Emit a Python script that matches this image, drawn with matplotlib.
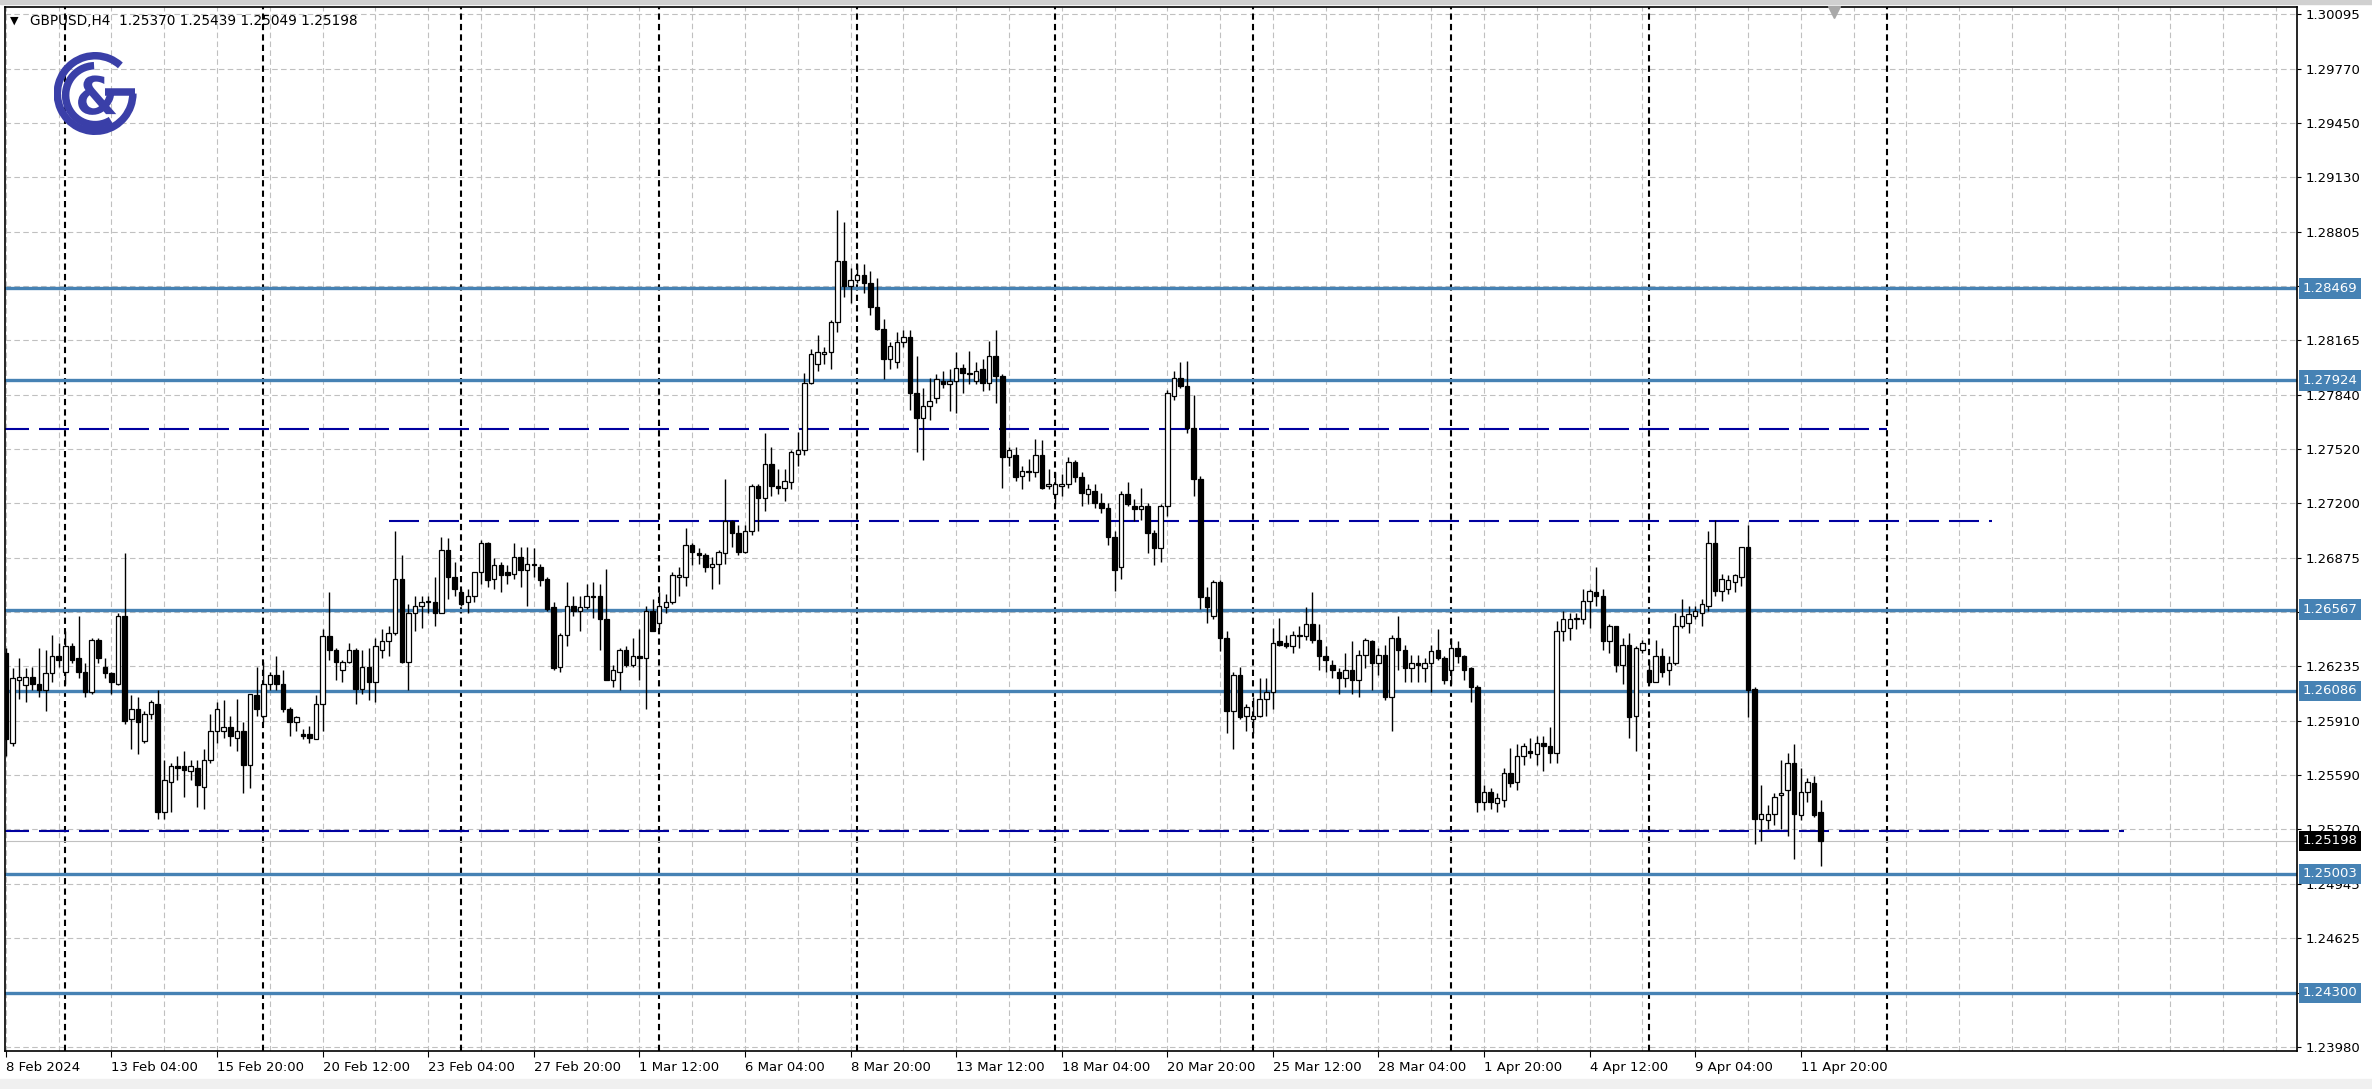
import numpy as np
import matplotlib
matplotlib.use("Agg")
import matplotlib.pyplot as plt
from matplotlib.patches import Arc, PathPatch, Rectangle
from matplotlib.textpath import TextPath
from matplotlib.font_manager import FontProperties
from matplotlib.transforms import Affine2D

# GBPUSD H4 candles, 8 Feb 12:00 .. 12 Apr 08:00
opens = [
    1.2631, 1.2578, 1.2615, 1.2612, 1.2617, 1.2613, 1.2609, 1.2619, 1.2629, 1.2620,
    1.2635, 1.2628, 1.2620, 1.2608, 1.2639, 1.2623, 1.2619, 1.2613, 1.2653, 1.2592,
    1.2598, 1.2579, 1.2595, 1.2601, 1.2537, 1.2555, 1.2564, 1.2564, 1.2561, 1.2563,
    1.2552, 1.2568, 1.2585, 1.2585, 1.2587, 1.2581, 1.2585, 1.2565, 1.2606, 1.2594,
    1.2613, 1.2618, 1.2613, 1.2598, 1.2590, 1.2583, 1.2583, 1.2580, 1.2601, 1.2641,
    1.2633, 1.2621, 1.2626, 1.2633, 1.2610, 1.2623, 1.2614, 1.2633, 1.2638, 1.2643,
    1.2675, 1.2626, 1.2655, 1.2659, 1.2662, 1.2661, 1.2655, 1.2692, 1.2676, 1.2667,
    1.2661, 1.2665, 1.2679, 1.2696, 1.2675, 1.2683, 1.2679, 1.2678, 1.2688, 1.2680,
    1.2684, 1.2682, 1.2675, 1.2658, 1.2623, 1.2642, 1.2659, 1.2656, 1.2658, 1.2665,
    1.2665, 1.2651, 1.2615, 1.2620, 1.2633, 1.2624, 1.2629, 1.2628, 1.2656, 1.2649,
    1.2658, 1.2661, 1.2676, 1.2676, 1.2695, 1.2690, 1.2689, 1.2682, 1.2684, 1.2690,
    1.2709, 1.2702, 1.2691, 1.2703, 1.2730, 1.2723, 1.2743, 1.2730, 1.2729, 1.2732,
    1.2749, 1.2751, 1.2791, 1.2802, 1.2808, 1.2809, 1.2827, 1.2863, 1.2848, 1.2852,
    1.2855, 1.2850, 1.2836, 1.2823, 1.2805, 1.2803, 1.2815, 1.2818, 1.2785, 1.2770,
    1.2777, 1.2782, 1.2792, 1.2790, 1.2792, 1.2800, 1.2797, 1.2792, 1.2799, 1.2791,
    1.2807, 1.2795, 1.2747, 1.2748, 1.2736, 1.2739, 1.2738, 1.2748, 1.2730, 1.2725,
    1.2730, 1.2731, 1.2744, 1.2735, 1.2725, 1.2727, 1.2720, 1.2717, 1.2700, 1.2682,
    1.2725, 1.2718, 1.2716, 1.2718, 1.2702, 1.2693, 1.2718, 1.2783, 1.2794, 1.2789,
    1.2764, 1.2734, 1.2664, 1.2653, 1.2673, 1.2640, 1.2597, 1.2618, 1.2594, 1.2592,
    1.2594, 1.2604, 1.2608, 1.2638, 1.2637, 1.2635, 1.2642, 1.2641, 1.2648, 1.2639,
    1.2629, 1.2624, 1.2620, 1.2616, 1.2621, 1.2615, 1.2630, 1.2638, 1.2625, 1.2630,
    1.2605, 1.2640, 1.2633, 1.2622, 1.2625, 1.2622, 1.2625, 1.2633, 1.2628, 1.2621,
    1.2634, 1.2629, 1.2622, 1.2611, 1.2543, 1.2549, 1.2542, 1.2544, 1.2560, 1.2555,
    1.2570, 1.2573, 1.2571, 1.2578, 1.2576, 1.2572, 1.2644, 1.2646, 1.2651, 1.2651,
    1.2662, 1.2667, 1.2665, 1.2638, 1.2647, 1.2624, 1.2636, 1.2594, 1.2633, 1.2621,
    1.2614, 1.2629, 1.2621, 1.2625, 1.2647, 1.2649, 1.2653, 1.2655, 1.2659, 1.2696,
    1.2668, 1.2669, 1.2673, 1.2676, 1.2694, 1.2610, 1.2533, 1.2532, 1.2536, 1.2547,
    1.2550, 1.2566, 1.2535, 1.2549, 1.2554, 1.25370,
]
highs = [
    1.2634, 1.2622, 1.2628, 1.2622, 1.2623, 1.2634, 1.2633, 1.2642, 1.2637, 1.2644,
    1.2637, 1.2653, 1.2625, 1.2640, 1.2640, 1.2628, 1.2620, 1.2655, 1.2690, 1.2606,
    1.2605, 1.2597, 1.2603, 1.2609, 1.2568, 1.2566, 1.2570, 1.2573, 1.2568, 1.2568,
    1.2574, 1.2595, 1.2602, 1.2603, 1.2594, 1.2604, 1.2590, 1.2607, 1.2623, 1.2626,
    1.2620, 1.2629, 1.2621, 1.2599, 1.2594, 1.2586, 1.2588, 1.2606, 1.2645, 1.2667,
    1.2634, 1.2627, 1.2637, 1.2634, 1.2633, 1.2634, 1.2640, 1.2645, 1.2647, 1.2703,
    1.2689, 1.2660, 1.2665, 1.2665, 1.2665, 1.2676, 1.2700, 1.2699, 1.2685, 1.2669,
    1.2669, 1.2679, 1.2698, 1.2697, 1.2687, 1.2685, 1.2683, 1.2696, 1.2694, 1.2694,
    1.2693, 1.2684, 1.2676, 1.2661, 1.2643, 1.2673, 1.2665, 1.2665, 1.2672, 1.2673,
    1.2672, 1.2681, 1.2624, 1.2634, 1.2635, 1.2640, 1.2645, 1.2659, 1.2663, 1.2667,
    1.2666, 1.2679, 1.2682, 1.2705, 1.2696, 1.2693, 1.2690, 1.2688, 1.2692, 1.2734,
    1.2710, 1.2707, 1.2707, 1.2731, 1.2731, 1.2761, 1.2753, 1.2740, 1.2740, 1.2751,
    1.2762, 1.2797, 1.2811, 1.2819, 1.2812, 1.2828, 1.2893, 1.2886, 1.2859, 1.2861,
    1.2861, 1.2857, 1.2853, 1.2829, 1.2815, 1.2821, 1.2822, 1.2822, 1.2807, 1.2788,
    1.2794, 1.2796, 1.2798, 1.2799, 1.2809, 1.2802, 1.2810, 1.2803, 1.2805, 1.2816,
    1.2822, 1.2796, 1.2753, 1.2753, 1.2742, 1.2746, 1.2758, 1.2757, 1.2740, 1.2738,
    1.2737, 1.2747, 1.2745, 1.2738, 1.2731, 1.2731, 1.2726, 1.2720, 1.2703, 1.2727,
    1.2732, 1.2722, 1.2729, 1.2720, 1.2704, 1.2719, 1.2787, 1.2798, 1.2803, 1.2804,
    1.2784, 1.2736, 1.2670, 1.2674, 1.2674, 1.2644, 1.2620, 1.2623, 1.2601, 1.2605,
    1.2616, 1.2616, 1.2646, 1.2652, 1.2642, 1.2644, 1.2647, 1.2658, 1.2667, 1.2648,
    1.2635, 1.2627, 1.2622, 1.2631, 1.2638, 1.2633, 1.2640, 1.2639, 1.2634, 1.2636,
    1.2642, 1.2653, 1.2636, 1.2630, 1.2630, 1.2628, 1.2636, 1.2645, 1.2629, 1.2640,
    1.2638, 1.2630, 1.2623, 1.2612, 1.2553, 1.2551, 1.2548, 1.2563, 1.2575, 1.2577,
    1.2578, 1.2581, 1.2582, 1.2582, 1.2587, 1.2650, 1.2656, 1.2655, 1.2655, 1.2669,
    1.2669, 1.2682, 1.2669, 1.2648, 1.2647, 1.2640, 1.2643, 1.2635, 1.2639, 1.2627,
    1.2639, 1.2634, 1.2629, 1.2655, 1.2663, 1.2659, 1.2659, 1.2663, 1.2703, 1.2710,
    1.2678, 1.2677, 1.2678, 1.2694, 1.2707, 1.2611, 1.2553, 1.2541, 1.2548, 1.2568,
    1.2572, 1.2577, 1.2563, 1.2557, 1.2558, 1.25439,
]
lows = [
    1.2570, 1.2576, 1.2604, 1.2602, 1.2609, 1.2605, 1.2597, 1.2614, 1.2623, 1.2613,
    1.2625, 1.2616, 1.2605, 1.2607, 1.2625, 1.2616, 1.2607, 1.2612, 1.2589, 1.2574,
    1.2571, 1.2578, 1.2592, 1.2533, 1.2533, 1.2537, 1.2556, 1.2546, 1.2556, 1.2540,
    1.2539, 1.2566, 1.2578, 1.2581, 1.2576, 1.2573, 1.2548, 1.2551, 1.2594, 1.2590,
    1.2609, 1.2609, 1.2596, 1.2582, 1.2585, 1.2580, 1.2578, 1.2580, 1.2585, 1.2627,
    1.2615, 1.2614, 1.2625, 1.2601, 1.2607, 1.2603, 1.2602, 1.2628, 1.2629, 1.2642,
    1.2625, 1.2609, 1.2644, 1.2646, 1.2655, 1.2647, 1.2655, 1.2663, 1.2665, 1.2659,
    1.2655, 1.2661, 1.2672, 1.2670, 1.2669, 1.2667, 1.2672, 1.2675, 1.2670, 1.2659,
    1.2676, 1.2671, 1.2656, 1.2621, 1.2620, 1.2635, 1.2653, 1.2644, 1.2657, 1.2652,
    1.2633, 1.2615, 1.2611, 1.2609, 1.2623, 1.2623, 1.2615, 1.2598, 1.2644, 1.2645,
    1.2655, 1.2660, 1.2665, 1.2671, 1.2683, 1.2684, 1.2679, 1.2669, 1.2672, 1.2684,
    1.2694, 1.2689, 1.2690, 1.2701, 1.2703, 1.2715, 1.2724, 1.2725, 1.2721, 1.2728,
    1.2742, 1.2748, 1.2790, 1.2798, 1.2802, 1.2799, 1.2821, 1.2842, 1.2838, 1.2850,
    1.2844, 1.2831, 1.2822, 1.2793, 1.2799, 1.2800, 1.2812, 1.2775, 1.2750, 1.2745,
    1.2769, 1.2779, 1.2788, 1.2774, 1.2773, 1.2785, 1.2790, 1.2790, 1.2786, 1.2787,
    1.2779, 1.2729, 1.2742, 1.2733, 1.2728, 1.2733, 1.2735, 1.2728, 1.2728, 1.2719,
    1.2724, 1.2729, 1.2732, 1.2718, 1.2719, 1.2717, 1.2714, 1.2695, 1.2668, 1.2675,
    1.2718, 1.2709, 1.2710, 1.2690, 1.2683, 1.2685, 1.2712, 1.2781, 1.2788, 1.2761,
    1.2724, 1.2657, 1.2649, 1.2651, 1.2632, 1.2584, 1.2574, 1.2592, 1.2585, 1.2584,
    1.2593, 1.2594, 1.2598, 1.2635, 1.2634, 1.2631, 1.2634, 1.2639, 1.2637, 1.2621,
    1.2620, 1.2616, 1.2607, 1.2611, 1.2607, 1.2605, 1.2622, 1.2609, 1.2618, 1.2603,
    1.2585, 1.2621, 1.2614, 1.2614, 1.2614, 1.2614, 1.2608, 1.2627, 1.2613, 1.2613,
    1.2625, 1.2615, 1.2602, 1.2537, 1.2538, 1.2539, 1.2537, 1.2540, 1.2552, 1.2550,
    1.2565, 1.2569, 1.2565, 1.2561, 1.2566, 1.2566, 1.2638, 1.2639, 1.2645, 1.2648,
    1.2646, 1.2659, 1.2633, 1.2631, 1.2620, 1.2613, 1.2581, 1.2573, 1.2631, 1.2613,
    1.2614, 1.2617, 1.2612, 1.2624, 1.2646, 1.2643, 1.2651, 1.2647, 1.2656, 1.2665,
    1.2662, 1.2666, 1.2667, 1.2671, 1.2593, 1.2518, 1.2520, 1.2527, 1.2529, 1.2527,
    1.2523, 1.2509, 1.2532, 1.2543, 1.2534, 1.25049,
]
closes = [
    1.2580, 1.2616, 1.2617, 1.2617, 1.2613, 1.2609, 1.2619, 1.2629, 1.2627, 1.2635,
    1.2627, 1.2620, 1.2608, 1.2639, 1.2628, 1.2619, 1.2614, 1.2653, 1.2591, 1.2598,
    1.2590, 1.2595, 1.2602, 1.2537, 1.2556, 1.2564, 1.2563, 1.2562, 1.2564, 1.2553,
    1.2568, 1.2585, 1.2598, 1.2587, 1.2582, 1.2585, 1.2565, 1.2607, 1.2598, 1.2613,
    1.2618, 1.2613, 1.2598, 1.2590, 1.2593, 1.2582, 1.2581, 1.2601, 1.2641, 1.2633,
    1.2626, 1.2626, 1.2633, 1.2610, 1.2623, 1.2614, 1.2635, 1.2638, 1.2643, 1.2675,
    1.2626, 1.2655, 1.2659, 1.2661, 1.2661, 1.2655, 1.2692, 1.2676, 1.2669, 1.2660,
    1.2665, 1.2679, 1.2696, 1.2674, 1.2683, 1.2677, 1.2677, 1.2688, 1.2680, 1.2684,
    1.2683, 1.2674, 1.2657, 1.2622, 1.2642, 1.2659, 1.2656, 1.2658, 1.2665, 1.2664,
    1.2651, 1.2615, 1.2621, 1.2633, 1.2624, 1.2629, 1.2628, 1.2656, 1.2644, 1.2659,
    1.2661, 1.2677, 1.2677, 1.2695, 1.2691, 1.2689, 1.2682, 1.2684, 1.2691, 1.2709,
    1.2702, 1.2691, 1.2703, 1.2730, 1.2723, 1.2743, 1.2730, 1.2729, 1.2733, 1.2750,
    1.2751, 1.2791, 1.2808, 1.2809, 1.2809, 1.2827, 1.2863, 1.2848, 1.2852, 1.2855,
    1.2850, 1.2836, 1.2823, 1.2805, 1.2813, 1.2815, 1.2818, 1.2785, 1.2770, 1.2777,
    1.2780, 1.2793, 1.2790, 1.2792, 1.2800, 1.2797, 1.2796, 1.2798, 1.2791, 1.2807,
    1.2795, 1.2747, 1.2751, 1.2735, 1.2739, 1.2738, 1.2748, 1.2729, 1.2731, 1.2731,
    1.2731, 1.2744, 1.2735, 1.2726, 1.2728, 1.2720, 1.2717, 1.2700, 1.2680, 1.2725,
    1.2719, 1.2716, 1.2718, 1.2702, 1.2693, 1.2718, 1.2785, 1.2794, 1.2789, 1.2764,
    1.2734, 1.2664, 1.2658, 1.2673, 1.2640, 1.2597, 1.2618, 1.2593, 1.2599, 1.2594,
    1.2604, 1.2608, 1.2637, 1.2636, 1.2635, 1.2642, 1.2641, 1.2648, 1.2639, 1.2629,
    1.2627, 1.2621, 1.2616, 1.2621, 1.2615, 1.2630, 1.2639, 1.2625, 1.2630, 1.2605,
    1.2640, 1.2633, 1.2622, 1.2625, 1.2624, 1.2625, 1.2632, 1.2628, 1.2615, 1.2634,
    1.2629, 1.2621, 1.2611, 1.2543, 1.2549, 1.2543, 1.2545, 1.2560, 1.2554, 1.2570,
    1.2576, 1.2572, 1.2578, 1.2576, 1.2572, 1.2644, 1.2651, 1.2651, 1.2652, 1.2662,
    1.2668, 1.2665, 1.2638, 1.2647, 1.2624, 1.2636, 1.2593, 1.2634, 1.2637, 1.2614,
    1.2629, 1.2620, 1.2625, 1.2647, 1.2653, 1.2654, 1.2656, 1.2660, 1.2696, 1.2668,
    1.2675, 1.2674, 1.2677, 1.2694, 1.2609, 1.2533, 1.2536, 1.2536, 1.2546, 1.2548,
    1.2566, 1.2536, 1.2549, 1.2555, 1.2535, 1.25198,
]

date_labels = ["8 Feb 2024", "13 Feb 04:00", "15 Feb 20:00", "20 Feb 12:00",
               "23 Feb 04:00", "27 Feb 20:00", "1 Mar 12:00", "6 Mar 04:00",
               "8 Mar 20:00", "13 Mar 12:00", "18 Mar 04:00", "20 Mar 20:00",
               "25 Mar 12:00", "28 Mar 04:00", "1 Apr 20:00", "4 Apr 12:00",
               "9 Apr 04:00", "11 Apr 20:00"]
bars_per_label = 16
week_starts = [9, 39, 69, 99, 129, 159, 189, 219, 249, 285]

price_ticks = [1.30095, 1.29770, 1.29450, 1.29130, 1.28805, 1.28485, 1.28165,
               1.27840, 1.27520, 1.27200, 1.26875, 1.26555, 1.26235, 1.25910,
               1.25590, 1.25270, 1.24945, 1.24625, 1.24300, 1.23980]

levels = [1.28469, 1.27924, 1.26567, 1.26086, 1.25003, 1.24300]
trend_values = [1.27635, 1.27094, 1.25259]
trend_start = [-1, 58, -1]
trend_end = [285, 301, 321]

symbol = "GBPUSD,H4"
last_bar = (1.25370, 1.25439, 1.25049, 1.25198)

BLUE = "#4682b4"
NAVY = "#0000a0"
GRID = "#c0c0c0"

W, H = 2372, 1089
fig = plt.figure(figsize=(W / 100, H / 100), dpi=100)
fig.patch.set_facecolor("white")
fig.patches.append(Rectangle((0, 1 - 4 / H), 1, 4 / H, transform=fig.transFigure,
                             color="#d0d0d0", zorder=0))
fig.patches.append(Rectangle((0, 0), 1, 10 / H, transform=fig.transFigure,
                             color="#f0f0f0", zorder=0))

ax = fig.add_axes([4.6 / W, (H - 1051) / H, (2297 - 4.6) / W, (1051 - 7) / H])
ax.set_xlim(-0.2, 347.2)
ax.set_ylim(1.23955, 1.30134)

o = np.array(opens)
hi = np.array(highs)
lo = np.array(lows)
c = np.array(closes)
x = np.arange(len(o))
up = c >= o

# grid
ax.set_yticks(price_ticks)
ax.set_yticklabels([f"{v:.5f}" for v in price_ticks])
ax.set_xticks(np.arange(len(date_labels)) * bars_per_label)
ax.set_xticklabels(date_labels)
ax.set_xticks(np.arange(0, 348, 8), minor=True)
ax.grid(True, which="both", color=GRID, linestyle=(0, (5, 3)), linewidth=0.8, zorder=0)
ax.set_axisbelow(True)

ax.yaxis.tick_right()
ax.tick_params(axis="y", which="major", length=3, width=0.8, pad=3.5,
               labelsize=9.5, colors="black")
ax.tick_params(axis="x", which="major", length=4.5, width=0.8, pad=2.5,
               labelsize=9.5)
ax.tick_params(axis="x", which="minor", length=0)
for lab in ax.get_xticklabels():
    lab.set_horizontalalignment("left")
for sp in ax.spines.values():
    sp.set_linewidth(1.2)
    sp.set_color("black")

# weekly separators
for ws in week_starts:
    ax.axvline(ws, color="black", linestyle=(0, (3, 2)), linewidth=1.5, zorder=1)

# horizontal levels
for lv in levels:
    ax.axhline(lv, color=BLUE, linewidth=2.4, zorder=2)
for v, s, e in zip(trend_values, trend_start, trend_end):
    ax.hlines(v, s, e, color=NAVY, linestyle=(0, (14.4, 4.8)), linewidth=1.5, zorder=2)
ax.axhline(last_bar[3], color="#c0c0c0", linewidth=0.8, zorder=2)

# candles
ax.vlines(x, lo, hi, color="black", linewidth=1.0, zorder=3)
body_lo = np.minimum(o, c)
body_h = np.maximum(np.abs(c - o), 0.00003)
ax.bar(x, body_h, bottom=body_lo, width=0.68,
       color=np.where(up, "white", "black"), edgecolor="black",
       linewidth=0.9, zorder=4)

# price labels on the right axis
ytr = ax.get_yaxis_transform()
for lv in levels:
    ax.text(1.0024, lv, f"{lv:.5f}", transform=ytr, ha="left", va="center",
            fontsize=9.5, color="white", clip_on=False, zorder=10,
            bbox=dict(boxstyle="square,pad=0.28", fc=BLUE, ec="none"))
ax.text(1.0024, last_bar[3], f"{last_bar[3]:.5f}", transform=ytr, ha="left",
        va="center", fontsize=9.5, color="white", clip_on=False, zorder=11,
        bbox=dict(boxstyle="square,pad=0.28", fc="black", ec="none"))

# chart shift marker
ax.plot([277], [0.995], marker="v", color="#a8a8a8", markersize=9,
        transform=ax.get_xaxis_transform(), clip_on=False, zorder=12)

# header
fig.text(10 / W, 1 - 21 / H, "\u25bc", fontsize=8, va="center", ha="left")
fig.text(30 / W, 1 - 21 / H,
         f"{symbol}  " + " ".join(f"{v:.5f}" for v in last_bar),
         fontsize=9.8, va="center", ha="left")

# logo
LOGO = "#3a3fa8"
lax = fig.add_axes([53.6 / W, 1 - 135 / H, 83 / W, 83 / H])
lax.set_xlim(-1, 1)
lax.set_ylim(-1, 1)
lax.axis("off")
lax.add_patch(Arc((0, 0), 1.82, 1.82, theta1=48, theta2=360, color=LOGO, lw=5.4))
lax.plot([0.25, 0.97], [0.03, 0.03], color=LOGO, lw=5.4, solid_capstyle="butt")
lax.add_patch(Arc((0.0, -0.04), 1.42, 1.42, theta1=92, theta2=302, color=LOGO, lw=5.4))
tp = TextPath((0, 0), "&", size=1, prop=FontProperties(family="DejaVu Sans", weight="bold"))
bb = tp.get_extents()
tr = (Affine2D().translate(-(bb.x0 + bb.x1) / 2, -(bb.y0 + bb.y1) / 2)
      .scale(0.92 / bb.width, 0.95 / bb.height).translate(0.05, -0.04))
lax.add_patch(PathPatch(tr.transform_path(tp), color=LOGO, lw=0))

fig.savefig("out.png", dpi=100)
